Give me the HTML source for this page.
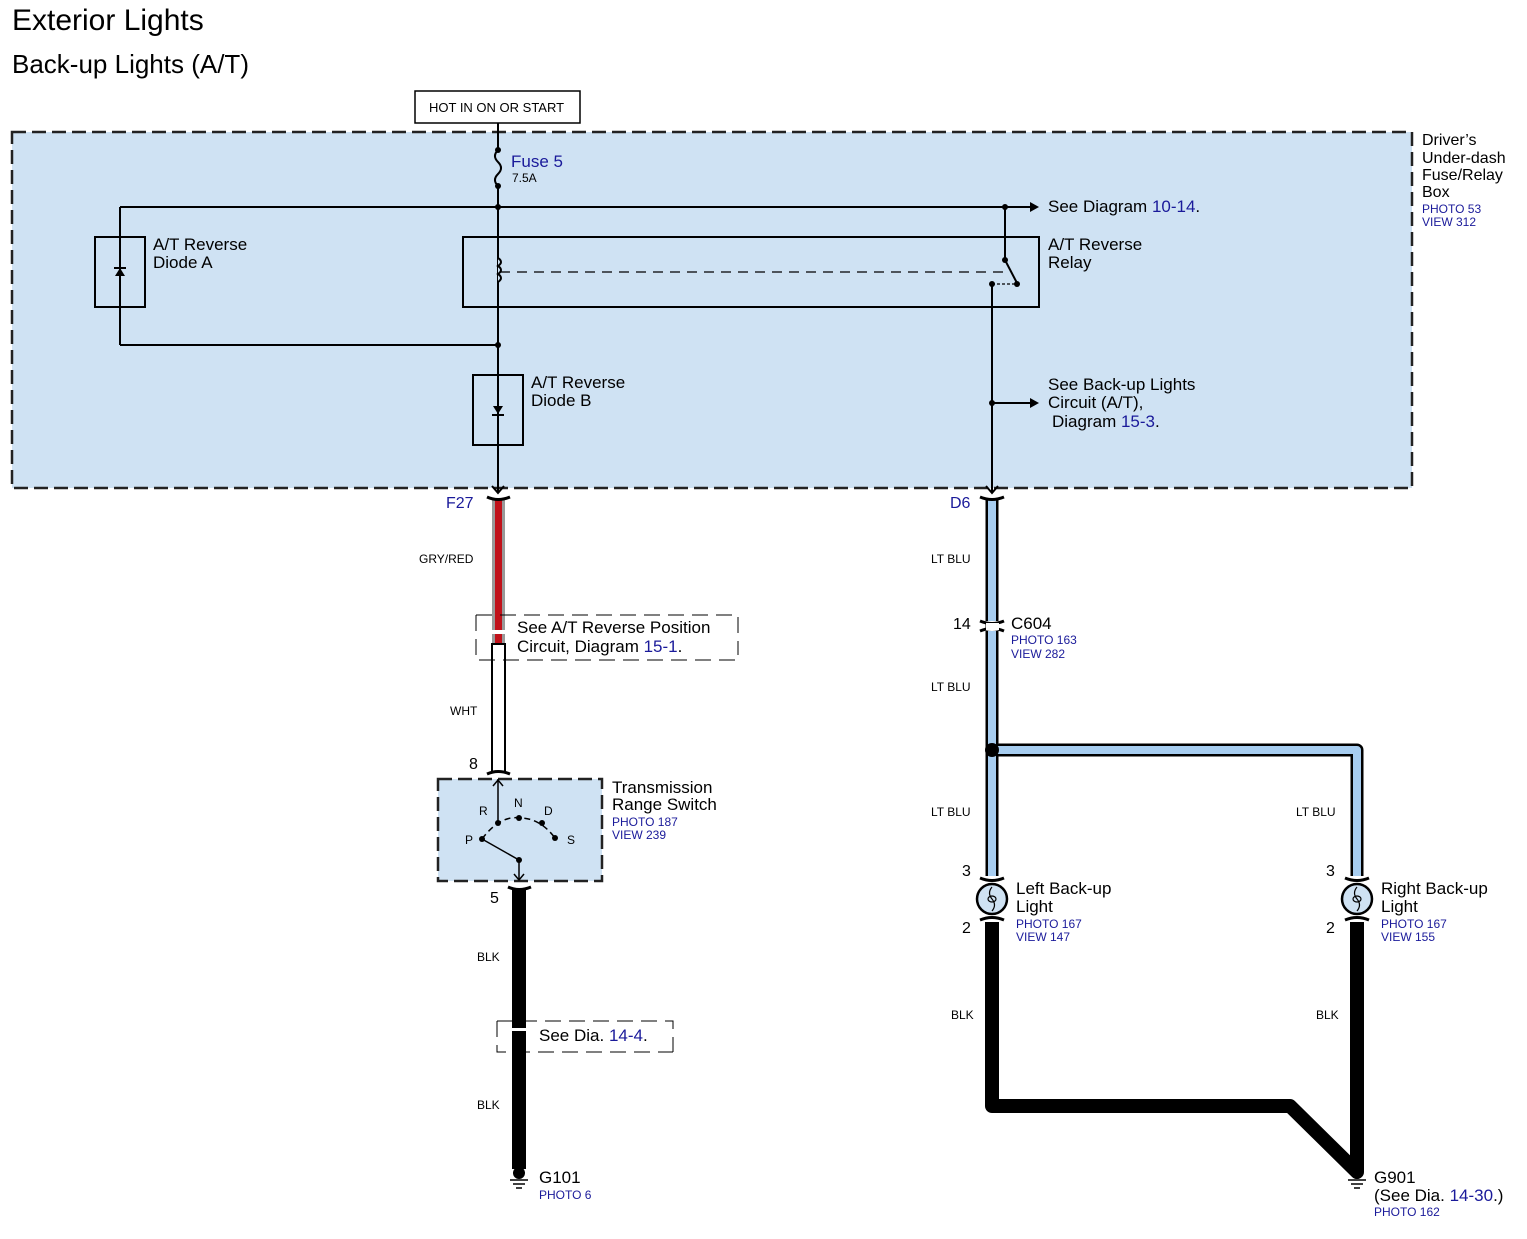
<!DOCTYPE html>
<html><head><meta charset="utf-8"><style>
body{margin:0;background:#fff}
svg{display:block;font-family:"Liberation Sans",sans-serif}
.b{fill:#1a1a9a}
</style></head><body>
<svg width="1527" height="1239" viewBox="0 0 1527 1239">
<text x="12" y="30" font-size="30">Exterior Lights</text>
<text x="12" y="73" font-size="26">Back-up Lights (A/T)</text>
<rect x="415" y="91" width="165" height="32" fill="#fff" stroke="#000" stroke-width="1.5"/>
<text x="429" y="112" font-size="13">HOT IN ON OR START</text>
<rect x="12" y="132" width="1400" height="356" fill="#cfe2f3" stroke="#222" stroke-width="2.5" stroke-dasharray="14,6"/>
<text x="1422" y="145" font-size="16">Driver’s</text>
<text x="1422" y="163" font-size="16">Under-dash</text>
<text x="1422" y="180" font-size="16">Fuse/Relay</text>
<text x="1422" y="197" font-size="16">Box</text>
<text x="1422" y="213" font-size="12" class="b">PHOTO 53</text>
<text x="1422" y="226" font-size="12" class="b">VIEW 312</text>
<g stroke="#000" stroke-width="2" fill="none">
<line x1="498" y1="123" x2="498" y2="150"/>
<path d="M498 150 q-6 6 0 12 q6 6 0 12 q-6 6 0 12"/>
<line x1="498" y1="186" x2="498" y2="492"/>
<line x1="120" y1="207" x2="1030" y2="207"/>
<line x1="120" y1="207" x2="120" y2="345"/>
<line x1="120" y1="345" x2="498" y2="345"/>
<rect x="95" y="237" width="50" height="70"/>
<rect x="463" y="237" width="576" height="70"/>
<rect x="473" y="375" width="50" height="70"/>
<line x1="1005" y1="207" x2="1005" y2="260"/>
<line x1="1005" y1="260" x2="1017" y2="283"/>
<line x1="992" y1="284" x2="992" y2="492"/>
<line x1="992" y1="403" x2="1030" y2="403"/>
<path d="M492 486 l6 7 l6 -7 M986 486 l6 7 l6 -7"/>
</g>
<path d="M498 258 q6 4 0 8 q6 4 0 8 q6 4 0 8" stroke="#000" stroke-width="2" fill="#cfe2f3"/>
<line x1="500" y1="272" x2="1008" y2="272" stroke="#000" stroke-width="1.3" stroke-dasharray="10,7"/>
<line x1="992" y1="284" x2="1017" y2="284" stroke="#000" stroke-width="1.3" stroke-dasharray="3,2"/>
<g fill="#000">
<circle cx="498" cy="150" r="3"/><circle cx="498" cy="186" r="3"/><circle cx="498" cy="207" r="3"/><circle cx="498" cy="345" r="3"/>
<circle cx="1005" cy="207" r="3"/><circle cx="1005" cy="260" r="3"/><circle cx="1017" cy="284" r="3"/><circle cx="992" cy="284" r="3"/><circle cx="992" cy="403" r="3"/>
<path d="M1030 202 l9 5 l-9 5z M1030 398 l9 5 l-9 5z"/>
<path d="M115 276 l5 -8 l5 8z M493 406 l5 8 l5 -8z"/>
<rect x="114" y="267" width="12" height="2"/><rect x="492" y="414" width="12" height="2"/>
</g>
<text x="511" y="167" font-size="17" class="b">Fuse 5</text>
<text x="512" y="182" font-size="12">7.5A</text>
<text x="1048" y="212" font-size="17">See Diagram <tspan class="b">10-14</tspan>.</text>
<text x="153" y="250" font-size="17">A/T Reverse</text><text x="153" y="268" font-size="17">Diode A</text>
<text x="1048" y="250" font-size="17">A/T Reverse</text><text x="1048" y="268" font-size="17">Relay</text>
<text x="531" y="388" font-size="17">A/T Reverse</text><text x="531" y="406" font-size="17">Diode B</text>
<text x="1048" y="390" font-size="17">See Back-up Lights</text>
<text x="1048" y="408" font-size="17">Circuit (A/T),</text>
<text x="1052" y="427" font-size="17">Diagram <tspan class="b">15-3</tspan>.</text>
<text x="446" y="508" font-size="16" class="b">F27</text>
<rect x="492" y="499" width="13" height="145" fill="#999"/>
<rect x="495" y="499" width="7" height="145" fill="#c0111a"/>
<rect x="492" y="630" width="13" height="4" fill="#fff"/>
<rect x="492" y="644" width="13" height="128" fill="#fff" stroke="#000" stroke-width="2"/>
<path d="M487 497 q11 5 23 0 M487 774 q11 -5 23 0" stroke="#000" stroke-width="3" fill="none"/>
<text x="419" y="563" font-size="12">GRY/RED</text>
<path d="M476 615 h262 v40 M476 615 v45 h262" stroke="#000" stroke-width="1" stroke-dasharray="16,8" fill="none"/>
<text x="517" y="633" font-size="17">See A/T Reverse Position</text>
<text x="517" y="652" font-size="17">Circuit, Diagram <tspan class="b">15-1</tspan>.</text>
<text x="450" y="715" font-size="12">WHT</text>
<text x="469" y="769" font-size="16">8</text>
<rect x="438" y="779" width="164" height="102" fill="#cfe2f3" stroke="#222" stroke-width="2.5" stroke-dasharray="14,6"/>
<text x="612" y="793" font-size="17">Transmission</text><text x="612" y="810" font-size="17">Range Switch</text>
<text x="612" y="826" font-size="12" class="b">PHOTO 187</text><text x="612" y="839" font-size="12" class="b">VIEW 239</text>
<g stroke="#000" stroke-width="1.5" fill="none">
<line x1="498" y1="779" x2="498" y2="823"/><path d="M493 786 l5 -6 l5 6"/>
<path d="M482 839 Q500 815 520 818 Q540 818 555 838" stroke-dasharray="6,4"/>
<line x1="482" y1="839" x2="519" y2="860"/><line x1="519" y1="860" x2="519" y2="880"/><path d="M514 874 l5 6 l5 -6"/>
</g>
<g fill="#000"><circle cx="498" cy="823" r="3"/><circle cx="519" cy="818" r="3"/><circle cx="542" cy="823" r="3"/><circle cx="555" cy="838" r="3"/><circle cx="482" cy="839" r="3"/><circle cx="519" cy="860" r="3"/></g>
<text x="479" y="815" font-size="12">R</text><text x="514" y="807" font-size="12">N</text><text x="544" y="815" font-size="12">D</text><text x="465" y="844" font-size="12">P</text><text x="567" y="844" font-size="12">S</text>
<text x="490" y="903" font-size="16">5</text>
<path d="M508 887 q11 5 23 0" stroke="#000" stroke-width="3" fill="none"/>
<rect x="512" y="889" width="14" height="280" fill="#000"/>
<rect x="512" y="1028" width="14" height="3" fill="#fff"/>
<text x="477" y="961" font-size="12">BLK</text>
<path d="M497 1021 h176 v31 M497 1021 v31 h176" stroke="#000" stroke-width="1" stroke-dasharray="16,8" fill="none"/>
<text x="539" y="1041" font-size="17">See Dia. <tspan class="b">14-4</tspan>.</text>
<text x="477" y="1109" font-size="12">BLK</text>
<circle cx="519" cy="1173" r="6" fill="#000"/>
<path d="M510 1180 h18 M513 1184 h12 M516 1188 h6" stroke="#000" stroke-width="1.5"/>
<text x="539" y="1183" font-size="17">G101</text>
<text x="539" y="1199" font-size="12" class="b">PHOTO 6</text>
<text x="950" y="508" font-size="16" class="b">D6</text>
<path d="M992 499 V876 M992 750 H1357 V876" stroke="#000" stroke-width="13" fill="none" stroke-linejoin="round"/>
<path d="M992 499 V876 M992 750 H1357 V876" stroke="#a7cdf0" stroke-width="8" fill="none" stroke-linejoin="round"/>
<path d="M980 497 q12 5 24 0" stroke="#000" stroke-width="3" fill="none"/>
<path d="M980 621 q12 5 24 0 M980 631 q12 -5 24 0" stroke="#000" stroke-width="3" fill="#fff"/>
<rect x="986" y="623" width="13" height="7" fill="#fff"/>
<circle cx="992" cy="750" r="7" fill="#000"/>
<text x="931" y="563" font-size="12">LT BLU</text>
<text x="953" y="629" font-size="16">14</text>
<text x="1011" y="629" font-size="17">C604</text>
<text x="1011" y="644" font-size="12" class="b">PHOTO 163</text><text x="1011" y="658" font-size="12" class="b">VIEW 282</text>
<text x="931" y="691" font-size="12">LT BLU</text>
<text x="931" y="816" font-size="12">LT BLU</text>
<text x="1296" y="816" font-size="12">LT BLU</text>
<text x="962" y="876" font-size="16">3</text><text x="962" y="933" font-size="16">2</text>
<text x="1326" y="876" font-size="16">3</text><text x="1326" y="933" font-size="16">2</text>
<path d="M992 922 V1106 H1290 L1357 1172 V922" stroke="#000" stroke-width="14" fill="none" stroke-linejoin="round"/>
<g stroke="#000" stroke-width="2.5">
<circle cx="992" cy="899" r="15" fill="#cfe2f3"/><circle cx="1357" cy="899" r="15" fill="#cfe2f3"/>
</g>
<path d="M980 878 q12 5 24 0 M980 920 q12 -5 24 0 M1345 878 q12 5 24 0 M1345 920 q12 -5 24 0" stroke="#000" stroke-width="3" fill="none"/>
<path d="M992 887 q-5 6 0 12 q5 6 0 12 M1357 887 q-5 6 0 12 q5 6 0 12" stroke="#000" stroke-width="1.2" fill="none"/>
<ellipse cx="992" cy="899" rx="4" ry="3" fill="none" stroke="#000" stroke-width="1.2"/>
<ellipse cx="1357" cy="899" rx="4" ry="3" fill="none" stroke="#000" stroke-width="1.2"/>
<text x="1016" y="894" font-size="17">Left Back-up</text><text x="1016" y="912" font-size="17">Light</text>
<text x="1016" y="928" font-size="12" class="b">PHOTO 167</text><text x="1016" y="941" font-size="12" class="b">VIEW 147</text>
<text x="1381" y="894" font-size="17">Right Back-up</text><text x="1381" y="912" font-size="17">Light</text>
<text x="1381" y="928" font-size="12" class="b">PHOTO 167</text><text x="1381" y="941" font-size="12" class="b">VIEW 155</text>
<text x="951" y="1019" font-size="12">BLK</text><text x="1316" y="1019" font-size="12">BLK</text>
<circle cx="1357" cy="1173" r="6" fill="#000"/>
<path d="M1348 1180 h18 M1351 1184 h12 M1354 1188 h6" stroke="#000" stroke-width="1.5"/>
<text x="1374" y="1183" font-size="17">G901</text>
<text x="1374" y="1201" font-size="17">(See Dia. <tspan class="b">14-30</tspan>.)</text>
<text x="1374" y="1216" font-size="12" class="b">PHOTO 162</text>
</svg>
</body></html>
